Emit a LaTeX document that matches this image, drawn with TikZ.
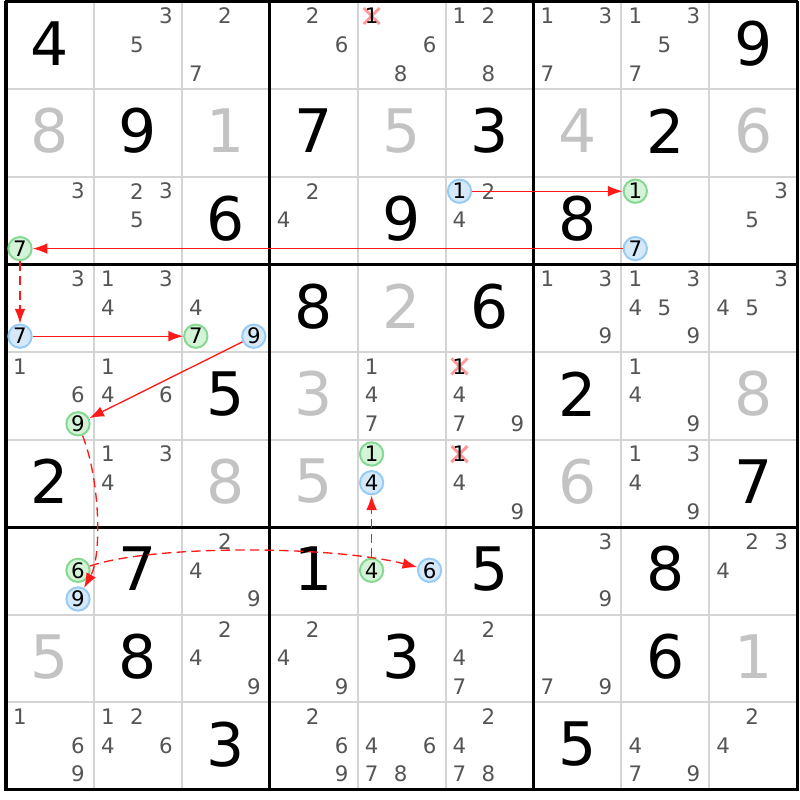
\documentclass[tikz,border=0pt]{standalone}
\usepackage{fontspec}
\setmainfont{DejaVu Sans}
\usetikzlibrary{arrows.meta}
\definecolor{pengray}{HTML}{555555}
\definecolor{givengray}{HTML}{C3C3C3}
\definecolor{gridlight}{HTML}{D4D4D4}
\definecolor{bluefill}{HTML}{D5E9FB}
\definecolor{bluebd}{HTML}{99CCF5}
\definecolor{greenfill}{HTML}{D4F4D8}
\definecolor{greenbd}{HTML}{86D892}
\definecolor{linkred}{HTML}{FF1A1A}
\tikzset{
  pen/.style={font=\fontsize{16}{17}\selectfont, text=pengray, inner sep=0pt},
  penx/.style={font=\fontsize{16}{17}\selectfont, text=black, inner sep=0pt},
  bigg/.style={font=\fontsize{45}{47}\selectfont, text=givengray, inner sep=0pt},
  bigs/.style={font=\fontsize{45}{47}\selectfont, text=black, inner sep=0pt},
  bcand/.style={circle, draw=bluebd, fill=bluefill, line width=1.5pt, minimum size=17.5pt, inner sep=0pt, font=\fontsize{16}{17}\selectfont, text=black},
  gcand/.style={circle, draw=greenbd, fill=greenfill, line width=1.5pt, minimum size=17.5pt, inner sep=0pt, font=\fontsize{16}{17}\selectfont, text=black},
  xmark/.style={draw=red, opacity=0.4, line width=2.2pt},
  thinline/.style={draw=gridlight, line width=1.5pt},
  thickline/.style={draw=black, line width=2.3pt},
  link/.style={draw=linkred, line width=1pt, -{Latex[length=11pt,width=8pt]}},
  weaklink/.style={link, dash pattern=on 7pt off 4pt},
}
\newcommand\pencil[3]{%
  \foreach \d in {#3}{%
    \pgfmathsetmacro\px{6+87.9*#2+14+29*mod(\d-1,3)}%
    \pgfmathsetmacro\py{1.5+87.6*#1+14.5+28.7*floor((\d-1)/3)}%
    \node[pen] (p#1#2\d) at (\px,\py) {\d};
  }}
\newcommand\candc[5]{%
  \pgfmathsetmacro\px{6+87.9*#3+14+29*mod(#4-1,3)}%
  \pgfmathsetmacro\py{1.5+87.6*#2+14.5+28.7*floor((#4-1)/3)}%
  \node[#1] (#5) at (\px,\py) {#4};}
\newcommand\crossd[3]{%
  \pgfmathsetmacro\px{6+87.9*#2+14+29*mod(#3-1,3)}%
  \pgfmathsetmacro\py{1.5+87.6*#1+14.5+28.7*floor((#3-1)/3)}%
  \draw[xmark] (\px-8,\py-8) -- (\px+8,\py+8) (\px-8,\py+8) -- (\px+8,\py-8);
  \node[penx] (x#1#2#3) at (\px,\py) {#3};}
\newcommand\bigdig[4]{%
  \pgfmathsetmacro\px{6+87.9*#2+44}%
  \pgfmathsetmacro\py{1.5+87.6*#1+42}%
  \node[#4] (d#1#2) at (\px,\py) {#3};}
\begin{document}
\begin{tikzpicture}[x=0.75pt,y=-0.75pt]
\useasboundingbox (0,0) rectangle (800,800);
\fill[white] (0,0) rectangle (800,800);
% thin grid
\foreach \i in {1,2,4,5,7,8}{
  \draw[thinline] ({6+87.9*\i},1.5) -- ({6+87.9*\i},790);
  \draw[thinline] (6,{1.5+87.6*\i}) -- (797,{1.5+87.6*\i});
}
\foreach \i in {0,3,6,9}{
  \draw[thickline] ({6+87.9*\i},0.5) -- ({6+87.9*\i},791);
  \draw[thickline] (5,{1.5+87.6*\i}) -- (798,{1.5+87.6*\i});
}
% solved (black) digits
\foreach \r/\c/\v in {0/0/4,0/8/9,1/1/9,1/3/7,1/5/3,1/7/2,2/2/6,2/4/9,2/6/8,3/3/8,3/5/6,4/2/5,4/6/2,5/0/2,5/8/7,6/1/7,6/3/1,6/5/5,6/7/8,7/1/8,7/4/3,7/7/6,8/2/3,8/6/5}{
  \bigdig{\r}{\c}{\v}{bigs}
}
% given (gray) digits
\foreach \r/\c/\v in {1/0/8,1/2/1,1/4/5,1/6/4,1/8/6,3/4/2,4/3/3,4/8/8,5/2/8,5/3/5,5/6/6,7/0/5,7/8/1}{
  \bigdig{\r}{\c}{\v}{bigg}
}
% pencil marks
\pencil{0}{1}{3,5}
\pencil{0}{2}{2,7}
\pencil{0}{3}{2,6}
\pencil{0}{4}{6,8}
\pencil{0}{5}{1,2,8}
\pencil{0}{6}{1,3,7}
\pencil{0}{7}{1,3,5,7}
\pencil{2}{0}{3}
\pencil{2}{1}{2,3,5}
\pencil{2}{3}{2,4}
\pencil{2}{5}{2,4}
\pencil{2}{8}{3,5}
\pencil{3}{0}{3}
\pencil{3}{1}{1,3,4}
\pencil{3}{2}{4}
\pencil{3}{6}{1,3,9}
\pencil{3}{7}{1,3,4,5,9}
\pencil{3}{8}{3,4,5}
\pencil{4}{0}{1,6}
\pencil{4}{1}{1,4,6}
\pencil{4}{4}{1,4,7}
\pencil{4}{5}{4,7,9}
\pencil{4}{7}{1,4,9}
\pencil{5}{1}{1,3,4}
\pencil{5}{5}{4,9}
\pencil{5}{7}{1,3,4,9}
\pencil{6}{2}{2,4,9}
\pencil{6}{6}{3,9}
\pencil{6}{8}{2,3,4}
\pencil{7}{2}{2,4,9}
\pencil{7}{3}{2,4,9}
\pencil{7}{5}{2,4,7}
\pencil{7}{6}{7,9}
\pencil{8}{0}{1,6,9}
\pencil{8}{1}{1,2,4,6}
\pencil{8}{3}{2,6,9}
\pencil{8}{4}{4,6,7,8}
\pencil{8}{5}{2,4,7,8}
\pencil{8}{7}{4,7,9}
\pencil{8}{8}{2,4}
% eliminated candidates
\crossd{0}{4}{1}
\crossd{4}{5}{1}
\crossd{5}{5}{1}
% chain candidates
\candc{gcand}{2}{0}{7}{g207}
\candc{bcand}{2}{5}{1}{b251}
\candc{gcand}{2}{7}{1}{g271}
\candc{bcand}{2}{7}{7}{b277}
\candc{bcand}{3}{0}{7}{b307}
\candc{gcand}{3}{2}{7}{g327}
\candc{bcand}{3}{2}{9}{b329}
\candc{gcand}{4}{0}{9}{g409}
\candc{gcand}{5}{4}{1}{g541}
\candc{bcand}{5}{4}{4}{b544}
\candc{gcand}{6}{0}{6}{g606}
\candc{bcand}{6}{0}{9}{b609}
\candc{gcand}{6}{4}{4}{g644}
\candc{bcand}{6}{4}{6}{b646}
% links
\draw[link] (b251) -- (g271);
\draw[link] (b277) -- (g207);
\draw[weaklink] (g207) -- (b307);
\draw[link] (b307) -- (g327);
\draw[link] (b329) -- (g409);
\draw[weaklink] (g409) .. controls (100,480) and (102,555) .. (b609);
\draw[weaklink] (g606) .. controls (150,545) and (330,545) .. (b646);
\draw[weaklink] (g644) -- (b544);
\end{tikzpicture}
\end{document}
